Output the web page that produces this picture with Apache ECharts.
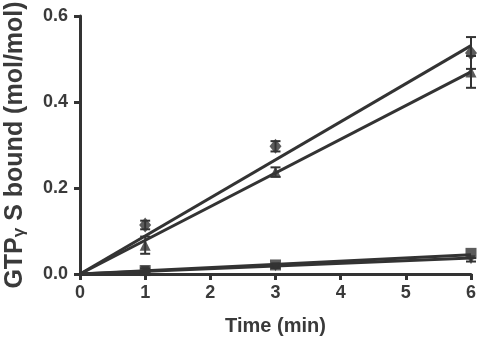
<!DOCTYPE html>
<html><head><meta charset="utf-8">
<script src="https://cdn.jsdelivr.net/npm/echarts@6/dist/echarts.min.js"></script>
<style>html,body{margin:0;padding:0;background:#fff}#c{width:480px;height:343px}</style>
</head><body><div id="c"></div>
<script>
// Data
var times = [1, 3, 6];
var diamondVals = [0.114, 0.297, 0.514];
var diamondErr = [0.010, 0.012, 0.037];
var triangleVals = [0.067, 0.237, 0.470];
var triangleErr = [0.020, 0.011, 0.037];
var squareVals = [0.008, 0.021, 0.048];
var invTriVals = [0.009, 0.017, 0.033];
var invTriErr = [0.004, 0.003, 0.004];
// Linear fits (value at t=0 and t=6)
var fitX = [0, 6];
var diamondFit = [0, 0.531];
var triangleFit = [0, 0.470];
var squareFit = [0, 0.045];
var invTriFit = [0, 0.037];
var xTicks = [0, 1, 2, 3, 4, 5, 6];
var yTicks = [0.0, 0.2, 0.4, 0.6];

var C = '#333333';
var TXT = '#3a3a3a';
var FF = 'Liberation Sans, Arial, sans-serif';
function pairs(xs, ys){ return xs.map(function(x,i){ return [x, ys[i]]; }); }
function fitSeries(ys){
  return {type:'line', data: pairs(fitX, ys), symbol:'none', lineStyle:{color:C, width:3}, z:2, silent:true, animation:false};
}
function scatter(ys, sym, size, rot){
  return {type:'scatter', data: pairs(times, ys), symbol: sym, symbolSize: size, symbolRotate: rot||0,
    itemStyle:{color:C}, z:4, animation:false};
}
function errSeries(ys, es){
  return {type:'custom', z:3, animation:false,
    data: times.map(function(t,i){ return [t, ys[i]-es[i], ys[i]+es[i]]; }),
    renderItem: function(params, api){
      var lo = api.coord([api.value(0), api.value(1)]);
      var hi = api.coord([api.value(0), api.value(2)]);
      var w = 5;
      var st = {stroke:C, lineWidth:2};
      return {type:'group', children:[
        {type:'line', shape:{x1:lo[0], y1:lo[1], x2:hi[0], y2:hi[1]}, style:st},
        {type:'line', shape:{x1:lo[0]-w, y1:lo[1], x2:lo[0]+w, y2:lo[1]}, style:st},
        {type:'line', shape:{x1:hi[0]-w, y1:hi[1], x2:hi[0]+w, y2:hi[1]}, style:st}
      ]};
    }
  };
}
var chart = echarts.init(document.getElementById('c'), null, {renderer:'canvas'});
var labelFont = {color:TXT, fontFamily:FF, fontWeight:'bold', fontSize:18};
chart.setOption({
  animation:false,
  backgroundColor:'#fff',
  grid:{left:80, right:9, top:16, bottom:69, containLabel:false, outerBoundsMode:'none'},
  xAxis:{type:'value', min:xTicks[0], max:xTicks[xTicks.length-1], interval:1,
    axisLine:{show:true, onZero:false, lineStyle:{color:C, width:3}},
    axisTick:{show:true, length:6, lineStyle:{color:C, width:3}},
    splitLine:{show:false},
    axisLabel:Object.assign({margin:10}, labelFont),
    name:'Time (min)', nameLocation:'middle', nameGap:42,
    nameTextStyle:{color:TXT, fontFamily:FF, fontWeight:'bold', fontSize:20}
  },
  yAxis:{type:'value', min:yTicks[0], max:yTicks[yTicks.length-1], interval:0.2,
    axisLine:{show:true, onZero:false, lineStyle:{color:C, width:3}},
    axisTick:{show:true, length:6, lineStyle:{color:C, width:3}},
    splitLine:{show:false},
    axisLabel:Object.assign({margin:12, formatter:function(v){return v.toFixed(1);}}, labelFont),
    name:'{b|GTP}{s|γ}{b| S bound (mol/mol)}', nameLocation:'middle', nameGap:52, nameRotate:90,
    nameTextStyle:{color:TXT, fontFamily:FF, fontWeight:'bold', fontSize:25,
      rich:{
        b:{color:TXT, fontFamily:FF, fontWeight:'bold', fontSize:25, lineHeight:25, verticalAlign:'top'},
        s:{color:TXT, fontFamily:FF, fontWeight:'bold', fontSize:17, lineHeight:17, verticalAlign:'bottom', padding:[14,0,0,0]}
      }}
  },
  series:[
    fitSeries(diamondFit), fitSeries(triangleFit), fitSeries(squareFit), fitSeries(invTriFit),
    errSeries(diamondVals, diamondErr), errSeries(triangleVals, triangleErr), errSeries(invTriVals, invTriErr),
    scatter(diamondVals, 'diamond', [12,15]),
    scatter(triangleVals, 'triangle', 11),
    scatter(squareVals, 'rect', 11),
    scatter(invTriVals, 'triangle', 9, 180)
  ]
});
</script></body></html>
